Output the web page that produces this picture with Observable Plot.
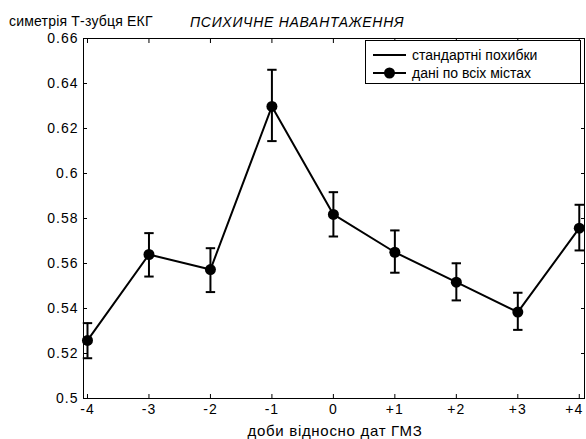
<!DOCTYPE html>
<html>
<head>
<meta charset="utf-8">
<script src="https://cdn.jsdelivr.net/npm/d3@7"></script>
<script src="https://cdn.jsdelivr.net/npm/@observablehq/plot@0.6"></script>
<style>
  html, body { margin: 0; padding: 0; background: #fff; }
  #wrap { position: relative; width: 586px; height: 439px; font-family: "Liberation Sans", Arial, sans-serif; }
  .ovl { position: absolute; font-size: 14px; color: #000; white-space: nowrap; line-height: 1; }
  #legend { position: absolute; left: 365px; top: 40px; width: 216px; height: 44px; border: 1px solid #000; background: #fff; box-sizing: border-box; }
  .li { position: absolute; left: 0; height: 16px; display: flex; align-items: center; font-size: 14px; white-space: nowrap; }
  .li svg { margin-left: 7px; margin-right: 6px; }
</style>
</head>
<body>
<div id="wrap"></div>
<script>
const days = [-4, -3, -2, -1, 0, 1, 2, 3, 4];
const dayLabels = ["-4", "-3", "-2", "-1", "0", "+1", "+2", "+3", "+4"];
const meanValues = [0.5258, 0.5640, 0.5573, 0.6298, 0.5818, 0.5650, 0.5517, 0.5384, 0.5757];
const lowerValues = [0.5179, 0.5542, 0.5473, 0.6144, 0.5720, 0.5559, 0.5436, 0.5305, 0.5658];
const upperValues = [0.5335, 0.5735, 0.5668, 0.6461, 0.5917, 0.5747, 0.5601, 0.5470, 0.5861];
const yTicks = [0.5, 0.52, 0.54, 0.56, 0.58, 0.6, 0.62, 0.64, 0.66];
const yTickLabels = ["0.5", "0.52", "0.54", "0.56", "0.58", "0.6", "0.62", "0.64", "0.66"];

const titleText = "ПСИХИЧНЕ НАВАНТАЖЕННЯ";
const yLabelText = "симетрія Т-зубця ЕКГ";
const xLabelText = "доби відносно дат ГМЗ";
const legendLabels = ["стандартні похибки", "дані по всіх містах"];

const data = days.map((d, i) => ({day: d, mean: meanValues[i], lo: lowerValues[i], hi: upperValues[i]}));

const capSymbol = {
  draw(context, size) {
    context.moveTo(-4.7, 0);
    context.lineTo(4.7, 0);
  }
};

const xFmt = d => dayLabels[days.indexOf(d)] ?? "";
const yFmt = d => yTickLabels[yTicks.findIndex(t => Math.abs(t - d) < 1e-9)] ?? "";

const chart = Plot.plot({
  width: 586,
  height: 439,
  marginLeft: 83,
  marginRight: 2,
  marginTop: 38,
  marginBottom: 41,
  style: {fontFamily: "Liberation Sans, Arial, sans-serif", fontSize: "14px", color: "#000", background: "#fff"},
  x: {domain: [-4.065, 4.085], ticks: days},
  y: {domain: [0.5, 0.66], ticks: yTicks},
  marks: [
    Plot.frame({stroke: "#000", strokeWidth: 1}),
    Plot.axisX({ticks: days, tickFormat: xFmt, tickSize: -4, tickPadding: 10, label: null, fontSize: 14}),
    Plot.axisX({anchor: "top", ticks: days, tickFormat: () => "", tickSize: -4, label: null}),
    Plot.axisY({ticks: yTicks, tickFormat: yFmt, tickSize: -4, tickPadding: 9, label: null, fontSize: 14}),
    Plot.axisY({anchor: "right", ticks: yTicks, tickFormat: () => "", tickSize: -4, label: null}),
    Plot.ruleX(data, {x: "day", y1: "lo", y2: "hi", stroke: "#000", strokeWidth: 2}),
    Plot.dot(data, {x: "day", y: "lo", symbol: capSymbol, stroke: "#000", strokeWidth: 2, fill: "none"}),
    Plot.dot(data, {x: "day", y: "hi", symbol: capSymbol, stroke: "#000", strokeWidth: 2, fill: "none"}),
    Plot.line(data, {x: "day", y: "mean", stroke: "#000", strokeWidth: 2}),
    Plot.dot(data, {x: "day", y: "mean", r: 5.5, fill: "#000", stroke: "none"})
  ]
});

d3.select(chart).selectAll('g[aria-label="x-axis tick label"] text, g[aria-label="y-axis tick label"] text')
  .attr("letter-spacing", "1px");
// keep the last x tick label inside the picture
const xLabs = d3.select(chart).selectAll('g[aria-label="x-axis tick label"] text').nodes();
const lastLab = xLabs.find(n => n.textContent === dayLabels[dayLabels.length - 1]);
if (lastLab) {
  const prev = +(lastLab.getAttribute("dx") || 0);
  lastLab.setAttribute("dx", prev - 5);
}

const wrap = document.getElementById("wrap");
wrap.appendChild(chart);

function addText(txt, left, top, extra) {
  const el = document.createElement("div");
  el.className = "ovl";
  el.textContent = txt;
  el.style.left = left + "px";
  el.style.top = top + "px";
  if (extra) Object.assign(el.style, extra);
  wrap.appendChild(el);
  return el;
}
addText(yLabelText, 9, 14, {letterSpacing: "0.2px"});
addText(titleText, 190, 15, {fontStyle: "italic", letterSpacing: "0.7px"});
const xl = addText(xLabelText, 335, 423, {fontSize: "15px", letterSpacing: "0.7px"});
xl.style.transform = "translateX(-50%)";

const legend = document.createElement("div");
legend.id = "legend";
legendLabels.forEach((lab, i) => {
  const row = document.createElement("div");
  row.className = "li";
  row.style.top = (i === 0 ? 6 : 24) + "px";
  const withDot = i === 1;
  row.innerHTML = `<svg width="33" height="14"><line x1="0" y1="7" x2="33" y2="7" stroke="#000" stroke-width="2"/>${withDot ? '<circle cx="16.5" cy="7" r="5.5" fill="#000"/>' : ''}</svg><span>${lab}</span>`;
  legend.appendChild(row);
});
wrap.appendChild(legend);
</script>
</body>
</html>
